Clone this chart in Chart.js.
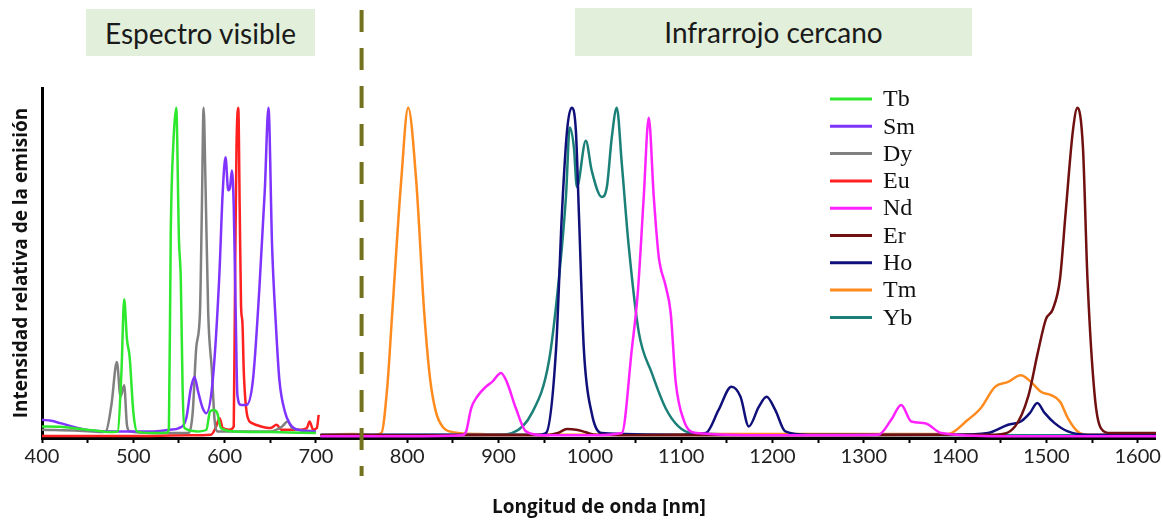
<!DOCTYPE html>
<html>
<head>
<meta charset="utf-8">
<title>Espectros de emisión de lantánidos</title>
<script src="https://cdn.jsdelivr.net/npm/chart.js@4.4.1/dist/chart.umd.min.js"></script>
<style>
    body { margin: 0; background: #fff; }
    #wrap { position: relative; width: 1163px; height: 521px; }
    .band {
        position: absolute;
        background: #e2efda;
        font-family: Lato, sans-serif;
        font-size: 28px;
        color: #1a1a1a;
        display: flex;
        align-items: center;
        justify-content: center;
    }
</style>
</head>
<body>
<div id="wrap">
    <canvas id="spectra" width="1163" height="521"></canvas>
    <div class="band" style="left:86px;top:9px;width:229px;height:47px;">Espectro visible</div>
    <div class="band" style="left:575px;top:8px;width:397px;height:48px;">Infrarrojo cercano</div>
</div>
<script>
// [longitud de onda (nm), intensidad relativa]
const tb = [[400,0.035],[420,0.034],[440,0.028],[460,0.022],[478,0.018],[483,0.02],[487,0.2],[490,0.42],[493,0.3],[496,0.245],[500,0.08],[504,0.02],[520,0.015],[537,0.016],
    [539,0.03],[541,0.62],[544,0.9],[547,1.0],[550,0.6],[552,0.48],[554,0.15],[556,0.03],[570,0.02],[580,0.025],[584,0.08],[588,0.085],[592,0.075],[596,0.03],[610,0.02],[650,0.018],[700,0.015]];
const sm = [[400,0.055],[410,0.052],[420,0.045],[440,0.03],[456,0.022],[480,0.02],[520,0.02],[540,0.025],[550,0.03],[558,0.06],[563,0.15],[567,0.185],[571,0.14],[576,0.09],[580,0.075],
    [587,0.175],[594,0.48],[598,0.75],[601,0.85],[604,0.75],[606,0.76],[608,0.81],[610,0.7],[612,0.4],[614,0.13],[618,0.1],[624,0.1],[631,0.175],[638,0.45],[644,0.75],[648,1.0],
    [652,0.58],[656,0.35],[660,0.175],[666,0.08],[671,0.045],[680,0.025],[700,0.02]];
const dy = [[400,0.025],[440,0.022],[466,0.018],[470,0.02],[476,0.1],[482,0.23],[486,0.125],[490,0.16],[493,0.04],[496,0.02],[520,0.015],[560,0.015],[565,0.076],[569,0.276],[573,0.38],
    [575,0.68],[577,1.0],[579,0.78],[582,0.38],[586,0.205],[589,0.055],[592,0.02],[620,0.02],[650,0.02],[663,0.035],[669,0.05],[674,0.03],[700,0.02]];
const eu = [[400,0.006],[450,0.006],[500,0.006],[560,0.008],[585,0.01],[590,0.03],[594.5,0.06],[598,0.03],[605,0.025],[610,0.035],[611.5,0.5],[613,0.88],[615,1.0],[616.5,0.7],
    [618,0.4],[619.5,0.35],[621,0.2],[625,0.065],[630,0.045],[640,0.035],[650,0.03],[657,0.04],[662,0.025],[680,0.025],[690,0.03],[693,0.05],[697,0.025],[701,0.03],[703,0.07]];
const nd = [[705,0.005],[800,0.005],[860,0.008],[864.5,0.02],[870,0.09],[876.5,0.125],[886,0.155],[893,0.17],[902.7,0.197],[909,0.17],[919,0.09],[930,0.02],[950,0.008],[1000,0.008],
    [1035,0.015],[1046,0.27],[1052.5,0.44],[1059,0.73],[1064.5,0.97],[1070,0.73],[1075.4,0.55],[1083,0.46],[1088.5,0.38],[1094,0.17],[1102.7,0.055],[1116,0.015],[1200,0.008],
    [1316,0.01],[1330,0.055],[1341,0.1],[1352,0.05],[1367,0.045],[1385,0.015],[1450,0.005],[1620,0.005]];
const er = [[705,0.008],[950,0.008],[965,0.015],[975,0.027],[985,0.025],[995,0.018],[1005,0.01],[1100,0.008],[1300,0.008],[1443.7,0.01],[1465.6,0.035],[1480,0.125],[1490.7,0.26],
    [1499.5,0.36],[1507,0.39],[1514.8,0.48],[1521,0.68],[1529,0.93],[1534,1.0],[1540,0.88],[1545,0.48],[1553,0.125],[1559.6,0.03],[1570,0.015],[1620,0.015]];
const ho = [[705,0.01],[900,0.01],[945,0.01],[952,0.015],[963,0.27],[969.4,0.68],[975,0.93],[980,1.0],[984.7,0.93],[988,0.68],[993.4,0.27],[1002,0.076],[1013,0.015],[1100,0.01],
    [1127,0.015],[1141,0.085],[1155,0.155],[1165,0.125],[1174,0.035],[1185,0.094],[1193.5,0.125],[1203,0.085],[1214,0.02],[1240,0.01],[1400,0.01],[1436,0.015],[1458,0.04],
    [1472,0.05],[1482,0.076],[1490,0.106],[1498,0.076],[1509,0.045],[1523.5,0.02],[1545,0.01],[1620,0.01]];
const tm = [[705,0.01],[740,0.012],[760,0.01],[771.6,0.015],[778,0.15],[783.6,0.38],[793.4,0.78],[801,1.0],[809.8,0.78],[818.6,0.38],[825,0.18],[831.7,0.076],[840,0.03],[846,0.02],
    [880,0.012],[950,0.01],[1050,0.01],[1150,0.012],[1250,0.012],[1350,0.012],[1392,0.012],[1414,0.055],[1428,0.09],[1443.7,0.155],[1458,0.17],[1472,0.19],[1483,0.17],[1494,0.14],
    [1505,0.13],[1515,0.11],[1523.5,0.06],[1534,0.02],[1545,0.01],[1620,0.01]];
const yb = [[705,0.008],[900,0.01],[915,0.015],[936.6,0.076],[955,0.23],[966,0.48],[973.8,0.73],[978,0.94],[982.5,0.88],[985.8,0.76],[995.6,0.9],[1002,0.81],[1013,0.73],[1018.6,0.76],
    [1024,0.91],[1029.5,1.0],[1035,0.83],[1042.6,0.58],[1053.6,0.32],[1067.8,0.197],[1083,0.09],[1097,0.035],[1111.5,0.015],[1200,0.01],[1620,0.008]];

const labels = ['Tb', 'Sm', 'Dy', 'Eu', 'Nd', 'Er', 'Ho', 'Tm', 'Yb'];
const series = [tb, sm, dy, eu, nd, er, ho, tm, yb];
const colors = ['#2ee82e', '#7f33ff', '#808080', '#ff2020', '#ff22ff', '#701010', '#10107a', '#ff8a1e', '#1b8078'];

const xTicks = [400, 500, 600, 700, 800, 900, 1000, 1100, 1200, 1300, 1400, 1500, 1600];
const boundary = 750; // visible / NIR divide

// dashed divider between the two regions
const dividerPlugin = {
    id: 'divider',
    afterDraw(chart) {
        const ctx = chart.ctx;
        const x = chart.scales.x.getPixelForValue(boundary);
        ctx.save();
        ctx.strokeStyle = '#73731f';
        ctx.lineWidth = 4;
        ctx.setLineDash([22, 16]);
        ctx.beginPath();
        ctx.moveTo(x, 10);
        ctx.lineTo(x, 476);
        ctx.stroke();
        ctx.restore();
    }
};

// legend drawn as a single column inside the plot
const legendPlugin = {
    id: 'columnLegend',
    afterDraw(chart) {
        const ctx = chart.ctx;
        ctx.save();
        ctx.font = '24px "Liberation Serif", serif';
        ctx.textBaseline = 'middle';
        ctx.fillStyle = '#111';
        chart.data.datasets.forEach((ds, i) => {
            const y = 99 + i * 27.3;
            ctx.strokeStyle = ds.borderColor;
            ctx.lineWidth = 3;
            ctx.beginPath();
            ctx.moveTo(830, y);
            ctx.lineTo(872, y);
            ctx.stroke();
            ctx.fillText(ds.label, 883, y + 1);
        });
        ctx.restore();
    }
};

const ctx = document.getElementById('spectra').getContext('2d');
new Chart(ctx, {
    type: 'line',
    data: {
        datasets: series.map((s, i) => ({
            label: labels[i],
            data: s.map(p => ({ x: p[0], y: p[1] })),
            borderColor: colors[i],
            borderWidth: 2.5,
            pointRadius: 0,
            fill: false,
            cubicInterpolationMode: 'monotone'
        }))
    },
    options: {
        responsive: false,
        animation: false,
        layout: { padding: { top: 88, right: 5, left: 0, bottom: 0 } },
        plugins: {
            legend: { display: false },
            tooltip: { enabled: false }
        },
        scales: {
            x: {
                type: 'linear',
                min: 400,
                max: 1620,
                afterBuildTicks: scale => {
                    scale.ticks = scale.ticks.filter(t => t.value % 50 === 0);
                },
                afterFit: scale => { scale.height = 83; },
                ticks: {
                    stepSize: 50,
                    includeBounds: false,
                    autoSkip: false,
                    maxRotation: 0,
                    padding: 2,
                    color: '#222',
                    font: { family: 'Lato', size: 20 },
                    callback: v => xTicks.includes(v) ? v : ''
                },
                grid: { drawOnChartArea: false, tickLength: 5, tickColor: '#000', tickWidth: 2 },
                border: { color: '#000', width: 3 },
                title: {
                    display: true,
                    text: 'Longitud de onda [nm]',
                    color: '#111',
                    font: { family: 'Open Sans', size: 19, weight: 'bold' },
                    padding: { bottom: 2 }
                }
            },
            y: {
                min: 0,
                max: 1.06,
                afterFit: scale => { scale.width = 42; },
                ticks: { display: false },
                grid: { display: false },
                border: { color: '#000', width: 3 },
                title: {
                    display: true,
                    text: 'Intensidad relativa de la emisión',
                    color: '#111',
                    font: { family: 'Open Sans', size: 19, weight: 'bold' },
                    padding: { top: 10 }
                }
            }
        }
    },
    plugins: [dividerPlugin, legendPlugin]
});
</script>
</body>
</html>
